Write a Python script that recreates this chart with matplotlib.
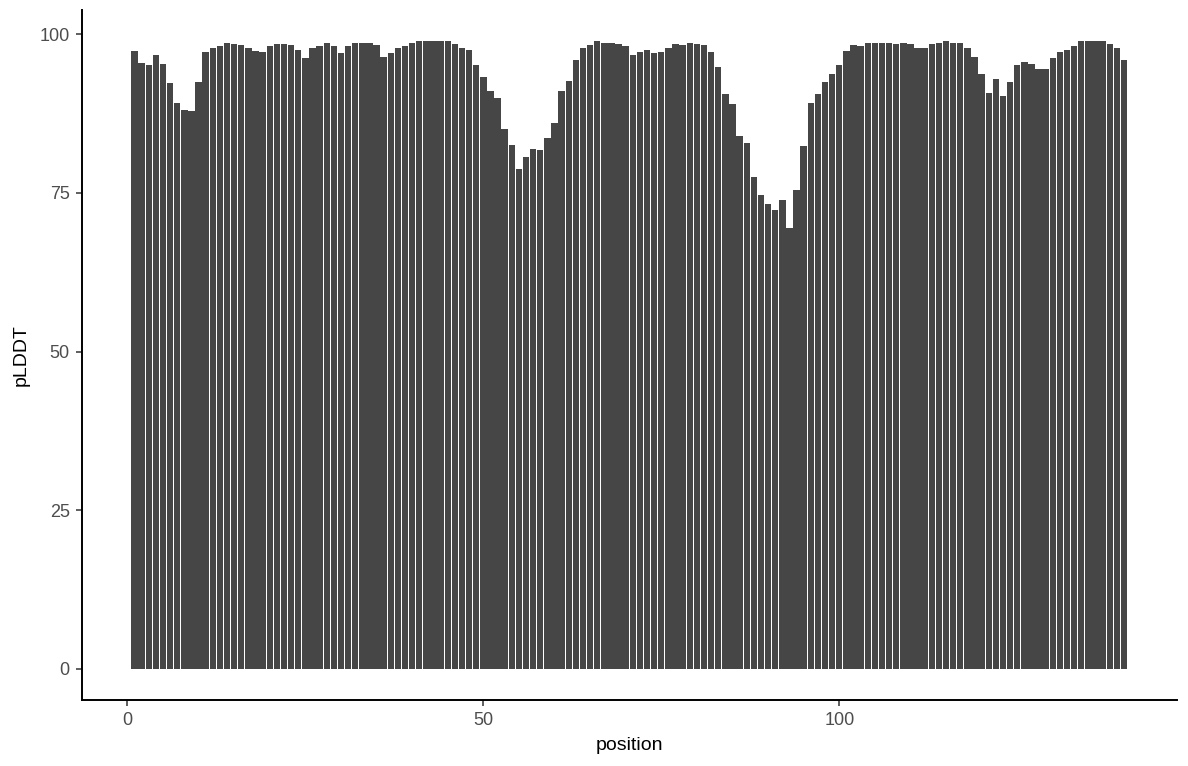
import matplotlib
matplotlib.use("Agg")
import matplotlib.pyplot as plt
import numpy as np

plt.rcParams['font.family'] = ['Liberation Sans', 'DejaVu Sans']

position = list(range(1, 141))
plddt = [
    97.4, 95.5, 95.2, 96.8, 95.4, 92.4, 89.2, 88.1, 87.9, 92.5,
    97.3, 97.8, 98.2, 98.7, 98.5, 98.4, 97.8, 97.4, 97.3, 98.1,
    98.5, 98.5, 98.4, 97.6, 96.3, 97.9, 98.2, 98.7, 98.1, 97.0,
    98.1, 98.7, 98.7, 98.7, 98.4, 96.5, 97.1, 97.9, 98.1, 98.7,
    98.9, 98.9, 98.9, 98.9, 98.9, 98.5, 97.9, 97.6, 95.2, 93.3,
    91.0, 89.9, 85.1, 82.6, 78.8, 80.7, 82.0, 81.8, 83.7, 86.1,
    91.1, 92.7, 96.0, 97.9, 98.4, 98.9, 98.7, 98.7, 98.5, 98.2,
    96.8, 97.3, 97.6, 97.0, 97.3, 97.8, 98.5, 98.4, 98.7, 98.5,
    98.4, 97.3, 94.8, 90.6, 89.1, 84.0, 82.8, 77.5, 74.7, 73.3,
    72.3, 73.9, 69.5, 75.5, 82.4, 89.2, 90.6, 92.5, 93.8, 95.1,
    97.4, 98.4, 98.1, 98.7, 98.7, 98.7, 98.7, 98.5, 98.7, 98.5,
    97.9, 97.8, 98.5, 98.7, 98.9, 98.7, 98.7, 97.9, 96.5, 93.8,
    90.8, 92.9, 90.3, 92.5, 95.2, 95.7, 95.4, 94.6, 94.6, 96.3,
    97.3, 97.6, 98.2, 98.9, 98.9, 98.9, 98.9, 98.5, 97.9, 95.9,
]
x_ticks = [0, 50, 100]
y_ticks = [0, 25, 50, 75, 100]

fig = plt.figure(figsize=(11.88, 7.66), dpi=100)
ax = fig.add_axes([81.5/1188, 1-700/766, (1177-81.5)/1188, (700-10)/766])

ax.bar(position, plddt, width=0.9, color='#464646', linewidth=0)

xmin, xmax = 0.55, 140.45
xr = xmax - xmin
ax.set_xlim(xmin - 0.05*xr, xmax + 0.05*xr)
ymax = max(plddt)
ax.set_ylim(-0.05*ymax, ymax*1.05)

ax.set_xticks(x_ticks)
ax.set_yticks(y_ticks)
ax.tick_params(axis='both', colors='#333333', labelcolor='#4D4D4D', labelsize=13,
               length=4.5, width=1.1)
ax.tick_params(axis='x', pad=4)
ax.tick_params(axis='y', pad=4)

for s in ['top', 'right']:
    ax.spines[s].set_visible(False)
for s in ['left', 'bottom']:
    ax.spines[s].set_linewidth(1.4)
    ax.spines[s].set_color('black')

ax.set_xlabel('position', fontsize=14, color='black', labelpad=6)
ax.set_ylabel('pLDDT', fontsize=14, color='black', labelpad=7)

fig.savefig('out.png', dpi=100)
